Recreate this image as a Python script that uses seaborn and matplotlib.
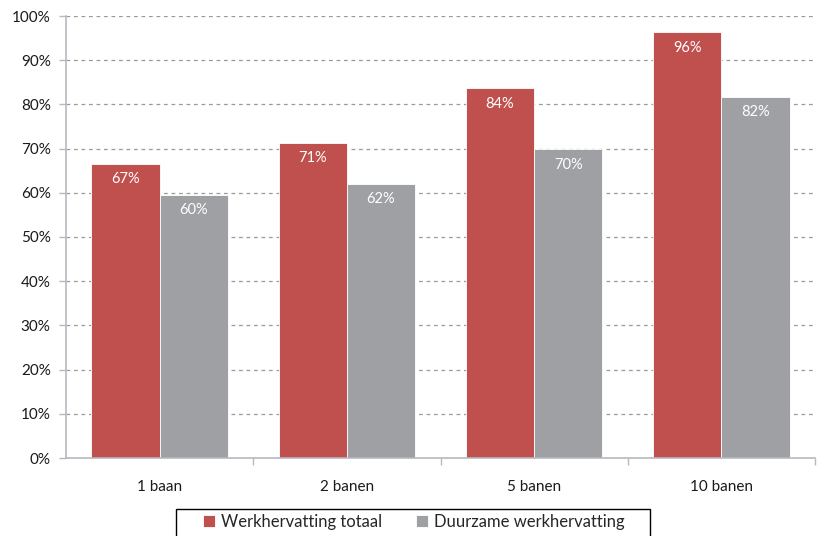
import matplotlib
matplotlib.use("Agg")
import matplotlib.pyplot as plt
import seaborn as sns
import pandas as pd
from matplotlib.patches import Rectangle
from matplotlib.ticker import FixedLocator, PercentFormatter

categories = ["1 baan", "2 banen", "5 banen", "10 banen"]
series_names = ["Werkhervatting totaal", "Duurzame werkhervatting"]
werkhervatting_totaal = [66.6, 71.3, 83.6, 96.3]
duurzame_werkhervatting = [59.5, 62.0, 69.8, 81.7]
y_ticks = [0, 10, 20, 30, 40, 50, 60, 70, 80, 90, 100]
colors = ["#C0504D", "#9EA0A4"]

df = pd.DataFrame({
    "categorie": categories * 2,
    "serie": [series_names[0]] * 4 + [series_names[1]] * 4,
    "waarde": werkhervatting_totaal + duurzame_werkhervatting,
})

sns.set_theme(style="white")
plt.rcParams["font.family"] = ["Lato", "DejaVu Sans"]

fig = plt.figure(figsize=(8.17, 5.36), dpi=100)
ax = fig.add_axes([66 / 817, 1 - 458 / 536, (815 - 66) / 817, (458 - 16) / 536])

sns.barplot(data=df, x="categorie", y="waarde", hue="serie", order=categories,
            hue_order=series_names, palette=colors, width=0.73, ax=ax,
            edgecolor="white", linewidth=0.6, saturation=1, legend=True)

ax.set_xlim(-0.5, 3.5)
ax.set_ylim(0, 100)
ax.yaxis.set_major_locator(FixedLocator(y_ticks))
ax.yaxis.set_major_formatter(PercentFormatter(decimals=0))
ax.grid(axis="y", color="#9A9A9A", linestyle=(0, (3, 3)), linewidth=0.9)
ax.set_axisbelow(True)
ax.set_xlabel("")
ax.set_ylabel("")

for s in ["top", "right"]:
    ax.spines[s].set_visible(False)
for s in ["left", "bottom"]:
    ax.spines[s].set_color("#B8B8C0")
    ax.spines[s].set_linewidth(1.2)

ax.tick_params(axis="y", which="major", direction="out", length=5, width=1,
               color="#B8B8C0", labelsize=11, labelcolor="#1a1a1a", pad=6, left=True)
ax.tick_params(axis="x", which="major", length=0, labelsize=11, labelcolor="#1a1a1a", pad=16)
ax.xaxis.set_minor_locator(FixedLocator([0.5, 1.5, 2.5, 3.5]))
ax.tick_params(axis="x", which="minor", direction="out", length=5, width=1,
               color="#B8B8C0", bottom=True)

for container in ax.containers:
    for bar in container:
        h = bar.get_height()
        ax.annotate(f"{h:.0f}%", (bar.get_x() + bar.get_width() / 2, h),
                    xytext=(0, -11), textcoords="offset points",
                    ha="center", va="center", color="white", fontsize=10.5)

handles, labels = ax.get_legend_handles_labels()
ax.legend_.remove()
leg = fig.legend(handles, labels, loc="center", bbox_to_anchor=(414 / 817, 1 - 522 / 536),
                 ncol=2, frameon=False, fontsize=12,
                 handlelength=0.7, handleheight=0.7, handletextpad=0.4, columnspacing=2.0,
                 borderpad=0.0, borderaxespad=0)
fig.patches.append(Rectangle((176 / 817, 1 - 545 / 536), (650 - 176) / 817, (545 - 509) / 536,
                             transform=fig.transFigure, fill=False, edgecolor="black",
                             linewidth=1.0))

fig.savefig("out.png", dpi=100)
